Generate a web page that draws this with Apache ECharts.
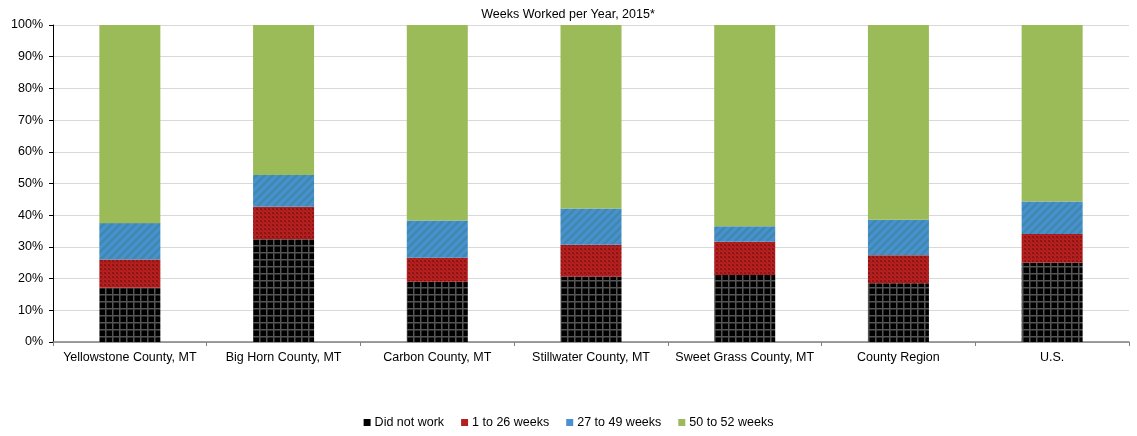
<!DOCTYPE html>
<html>
<head>
<meta charset="utf-8">
<script src="https://cdn.jsdelivr.net/npm/echarts@6/dist/echarts.min.js"></script>
<style>html,body{margin:0;padding:0;background:#fff}#c{width:1137px;height:436px}</style>
</head>
<body>
<div id="c"></div>
<script>
const categories = ["Yellowstone County, MT","Big Horn County, MT","Carbon County, MT","Stillwater County, MT","Sweet Grass County, MT","County Region","U.S."];
const seriesNames = ["Did not work","1 to 26 weeks","27 to 49 weeks","50 to 52 weeks"];
const didNotWork = [17.1, 32.4, 19.0, 20.6, 21.1, 18.5, 25.0];
const weeks1to26 = [8.9, 10.3, 7.6, 10.1, 10.5, 8.9, 9.1];
const weeks27to49 = [11.5, 10.0, 11.7, 11.4, 4.9, 11.2, 10.2];
const weeks50to52 = [62.5, 47.3, 61.7, 57.9, 63.5, 61.4, 55.7];
const yTicks = [0,10,20,30,40,50,60,70,80,90,100];

function makePattern(kind){
  const c = document.createElement('canvas');
  const ctx = c.getContext('2d');
  if(kind==='grid'){
    c.width=7;c.height=7;
    ctx.fillStyle='#000';ctx.fillRect(0,0,7,7);
    ctx.fillStyle='#555';ctx.fillRect(0,0,7,1.5);ctx.fillRect(0,0,1.5,7);
  } else if(kind==='dots'){
    c.width=4;c.height=4;
    ctx.fillStyle='#b4201f';ctx.fillRect(0,0,4,4);
    ctx.fillStyle='#8c1414';ctx.fillRect(0,0,2,2);ctx.fillRect(2,2,1,1);
  } else if(kind==='diag'){
    c.width=8;c.height=8;
    ctx.fillStyle='#4a8fd0';ctx.fillRect(0,0,8,8);
    ctx.strokeStyle='#3b8aa8';ctx.lineWidth=2.2;
    ctx.beginPath();
    ctx.moveTo(-2,10);ctx.lineTo(10,-2);
    ctx.moveTo(-6,6);ctx.lineTo(6,-6);
    ctx.moveTo(2,14);ctx.lineTo(14,2);
    ctx.stroke();
  }
  return {image:c, repeat:'repeat'};
}
const fills = [makePattern('grid'), makePattern('dots'), makePattern('diag'), '#9bbb59'];
const legendColors = ['#000000','#b4201f','#4a8fd0','#9bbb59'];
const datas = [didNotWork, weeks1to26, weeks27to49, weeks50to52];

const chart = echarts.init(document.getElementById('c'), null, {renderer:'canvas'});
chart.setOption({
  animation:false,
  textStyle:{fontFamily:'Liberation Sans, Arial, sans-serif'},
  title:{text:'Weeks Worked per Year, 2015*', left:563, top:3, textAlign:'center',
    textStyle:{fontSize:12.5, fontWeight:'normal', color:'#000', fontFamily:'Liberation Sans, Arial, sans-serif'}},
  legend:{
    bottom:2, left:'center', itemWidth:7, itemHeight:7, itemGap:17,
    icon:'rect',
    textStyle:{fontSize:12.5, color:'#000', padding:[0,0,0,-1]},
    data: seriesNames.map((n,i)=>({name:n, itemStyle:{color:legendColors[i]}}))
  },
  grid:{left:53, right:8, top:25, bottom:94, containLabel:false},
  xAxis:{
    type:'category', data:categories,
    axisLine:{lineStyle:{color:'#808080', width:1.5}},
    axisTick:{show:true, alignWithLabel:false, length:4, lineStyle:{color:'#808080'}},
    axisLabel:{color:'#000', fontSize:12.5, margin:9, interval:0}
  },
  yAxis:{
    type:'value', min:0, max:100, interval:10,
    axisLine:{show:true, lineStyle:{color:'#000', width:1}},
    axisTick:{show:true, length:4, inside:false, lineStyle:{color:'#000'}},
    axisLabel:{formatter:v=>v+'%', color:'#000', fontSize:12.5, margin:10},
    splitLine:{lineStyle:{color:'#d9d9d9', width:1}}
  },
  series: seriesNames.map((n,i)=>({
    name:n, type:'bar', stack:'total', barWidth:61,
    data:datas[i],
    itemStyle:{color:fills[i]},
    emphasis:{disabled:true}
  }))
});
</script>
</body>
</html>
